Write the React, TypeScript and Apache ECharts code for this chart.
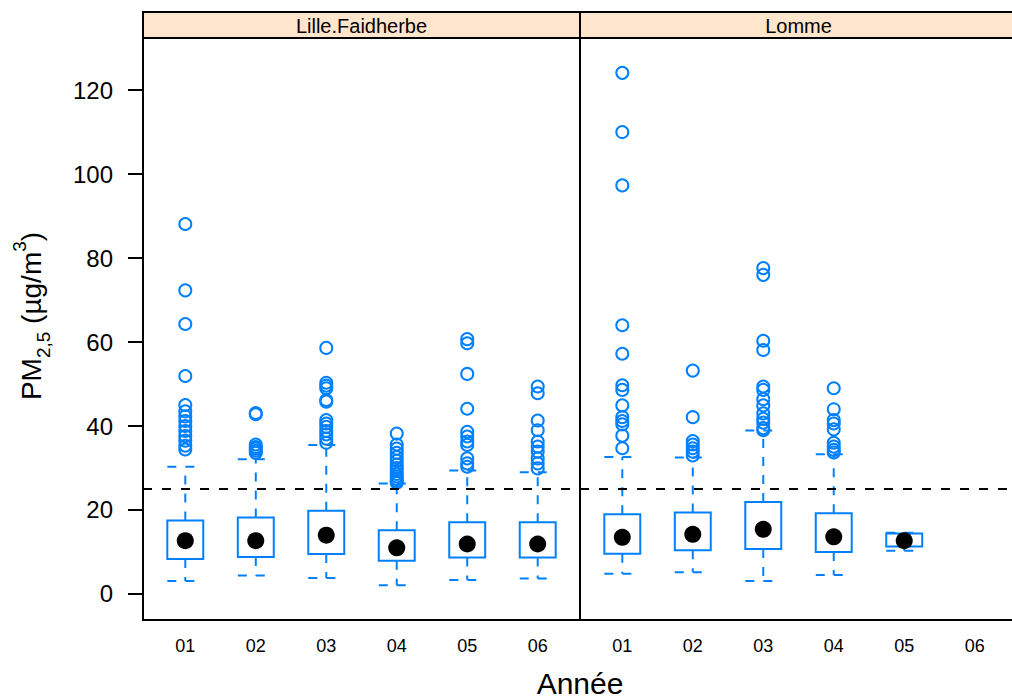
import React, { useEffect, useRef } from "react";
import * as echarts from "echarts";

const years = ["01", "02", "03", "04", "05", "06"];
const sites = ["Lille.Faidherbe", "Lomme"];
const yTicks = [0, 20, 40, 60, 80, 100, 120];
const limitValue = 25;

// [year index (1-based), lower whisker, Q1, median, Q3, upper whisker]
const lilleStats = [
  [1, 3.1, 8.3, 12.7, 17.5, 30.3],
  [2, 4.4, 8.8, 12.7, 18.2, 32.1],
  [3, 3.8, 9.5, 14.0, 19.8, 35.5],
  [4, 2.1, 7.9, 11.0, 15.2, 26.3],
  [5, 3.3, 8.7, 11.9, 17.1, 29.4],
  [6, 3.7, 8.7, 11.9, 17.1, 29.0],
];
const lommeStats = [
  [1, 4.8, 9.6, 13.5, 19.0, 32.6],
  [2, 5.2, 10.4, 14.2, 19.4, 32.5],
  [3, 3.1, 10.7, 15.4, 21.9, 38.9],
  [4, 4.5, 10.0, 13.6, 19.2, 33.3],
  [5, 10.3, 11.3, 12.7, 14.4, 14.6],
];

const lilleOutliers01 = [88.1, 72.3, 64.3, 51.9, 45.0, 43.5, 42.3, 41.2, 40.0, 38.8, 37.6, 36.5, 35.3, 34.4];
const lilleOutliers02 = [43.1, 42.8, 35.6, 35.0, 34.6, 34.1, 33.6];
const lilleOutliers03 = [58.6, 50.3, 49.6, 49.0, 46.2, 45.8, 41.4, 40.6, 39.8, 38.8, 38.0, 37.0, 36.0];
const lilleOutliers04 = [38.2, 35.6, 34.6, 33.6, 32.6, 31.7, 30.8, 30.0, 29.3, 28.6, 28.0, 27.4, 26.9, 26.5];
const lilleOutliers05 = [60.7, 59.7, 52.4, 44.1, 38.6, 37.5, 36.3, 35.5, 32.3, 31.1, 30.3];
const lilleOutliers06 = [49.4, 47.8, 41.3, 39.0, 36.3, 35.1, 33.9, 32.3, 31.1, 29.9];

const lommeOutliers01 = [124.1, 110.0, 97.3, 64.0, 57.2, 49.7, 48.6, 44.9, 42.1, 41.2, 40.4, 37.7, 34.7];
const lommeOutliers02 = [53.2, 42.1, 36.4, 35.6, 34.7, 33.9, 33.0];
const lommeOutliers03 = [77.6, 76.0, 60.3, 58.1, 49.4, 48.6, 46.4, 44.9, 43.0, 41.7, 40.8, 39.5, 39.0];
const lommeOutliers04 = [49.0, 44.0, 41.4, 40.6, 39.2, 36.0, 35.1, 34.3, 33.7];
const lommeOutliers05: number[] = [];

const lilleOutliers = [lilleOutliers01, lilleOutliers02, lilleOutliers03, lilleOutliers04, lilleOutliers05, lilleOutliers06];
const lommeOutliers = [lommeOutliers01, lommeOutliers02, lommeOutliers03, lommeOutliers04, lommeOutliers05];

const BLUE = "#0080ff";
const FONT = "'Liberation Sans', Arial, Helvetica, sans-serif";
const BOX_W = 0.51;

function toPoints(groups: number[][]) {
  const pts: number[][] = [];
  groups.forEach((g, i) => g.forEach((v) => pts.push([i + 1, v])));
  return pts;
}

function renderBox(params: any, api: any) {
  const x = api.value(0);
  const lo = api.coord([x, api.value(1)]);
  const q1 = api.coord([x, api.value(2)]);
  const q3 = api.coord([x, api.value(4)]);
  const hi = api.coord([x, api.value(5)]);
  const half = api.size([BOX_W, 0])[0] / 2;
  const cx = q1[0];
  const dash = { stroke: BLUE, lineWidth: 2, lineDash: [9, 9], fill: null };
  return {
    type: "group",
    children: [
      { type: "line", shape: { x1: cx, y1: q3[1], x2: cx, y2: hi[1] }, style: dash },
      { type: "line", shape: { x1: cx - half, y1: hi[1], x2: cx + half, y2: hi[1] }, style: dash },
      { type: "line", shape: { x1: cx, y1: q1[1], x2: cx, y2: lo[1] }, style: dash },
      { type: "line", shape: { x1: cx - half, y1: lo[1], x2: cx + half, y2: lo[1] }, style: dash },
      {
        type: "rect",
        shape: { x: cx - half, y: q3[1], width: half * 2, height: q1[1] - q3[1] },
        style: { fill: "none", stroke: BLUE, lineWidth: 2 },
      },
    ],
  };
}

function panelSeries(idx: number, stats: number[][], outliers: number[][]) {
  return [
    {
      type: "scatter",
      xAxisIndex: idx,
      yAxisIndex: idx,
      data: toPoints(outliers),
      symbol: "circle",
      symbolSize: 12,
      itemStyle: { color: "rgba(0,0,0,0)", borderColor: BLUE, borderWidth: 2, opacity: 1 },
      silent: true,
      z: 2,
    },
    {
      type: "custom",
      xAxisIndex: idx,
      yAxisIndex: idx,
      data: stats,
      renderItem: renderBox,
      encode: { x: 0, y: [1, 2, 3, 4, 5] },
      silent: true,
      z: 3,
    },
    {
      type: "scatter",
      xAxisIndex: idx,
      yAxisIndex: idx,
      data: stats.map((s) => [s[0], s[3]]),
      symbol: "circle",
      symbolSize: 17,
      itemStyle: { color: "#000", opacity: 1 },
      silent: true,
      z: 4,
      markLine: {
        silent: true,
        symbol: ["none", "none"],
        label: { show: false },
        lineStyle: { color: "#000", width: 2, type: [9, 10], opacity: 1 },
        data: [{ yAxis: limitValue }],
      },
    },
  ];
}

export default function App() {
  const ref = useRef<HTMLDivElement>(null);
  useEffect(() => {
    document.body.style.margin = "0";
    const chart = echarts.init(ref.current!, null, { renderer: "svg" });
    const gridTop = 38;
    const gridH = 582;
    const gridW = 437;
    const xAxisBase = {
      type: "value",
      min: 0.4,
      max: 6.6,
      axisLine: { show: false },
      axisTick: { show: false },
      splitLine: { show: false },
      axisLabel: {
        customValues: [1, 2, 3, 4, 5, 6],
        formatter: (v: number) => years[Math.round(v) - 1],
        fontSize: 18,
        color: "#000",
        fontFamily: FONT,
        margin: 17,
      },
    };
    const gridBase = {
      top: gridTop,
      width: gridW,
      height: gridH,
      show: true,
      borderColor: "#000",
      borderWidth: 2,
      backgroundColor: "transparent",
      containLabel: false,
      outerBoundsMode: "none",
    };
    chart.setOption({
      animation: false,
      backgroundColor: "#fff",
      grid: [
        { ...gridBase, left: 143 },
        { ...gridBase, left: 580 },
      ],
      xAxis: [
        { ...xAxisBase, gridIndex: 0 },
        { ...xAxisBase, gridIndex: 1 },
      ],
      yAxis: [
        {
          gridIndex: 0,
          type: "value",
          min: -6.2,
          max: 132.4,
          axisLine: { show: true, lineStyle: { color: "#000", width: 2 } },
          axisTick: { show: true, length: 15, customValues: yTicks, lineStyle: { color: "#000", width: 2 } },
          splitLine: { show: false },
          axisLabel: { customValues: yTicks, fontSize: 24, color: "#000", fontFamily: FONT, margin: 30 },
        },
        {
          gridIndex: 1,
          type: "value",
          min: -6.2,
          max: 132.4,
          axisLine: { show: false },
          axisTick: { show: false },
          splitLine: { show: false },
          axisLabel: { show: false },
        },
      ],
      series: [...panelSeries(0, lilleStats, lilleOutliers), ...panelSeries(1, lommeStats, lommeOutliers)],
      graphic: [
        {
          type: "rect",
          shape: { x: 143, y: 12, width: gridW, height: 26 },
          style: { fill: "#FFE5CC", stroke: "#000", lineWidth: 2 },
          z: 10,
        },
        {
          type: "rect",
          shape: { x: 580, y: 12, width: gridW, height: 26 },
          style: { fill: "#FFE5CC", stroke: "#000", lineWidth: 2 },
          z: 10,
        },
        {
          type: "text",
          x: 143 + gridW / 2,
          y: 26,
          style: { text: sites[0], fontSize: 20, fontFamily: FONT, fill: "#000", align: "center", verticalAlign: "middle" },
          z: 11,
        },
        {
          type: "text",
          x: 580 + gridW / 2,
          y: 26,
          style: { text: sites[1], fontSize: 20, fontFamily: FONT, fill: "#000", align: "center", verticalAlign: "middle" },
          z: 11,
        },
        {
          type: "text",
          x: 580,
          y: 683,
          style: { text: "Année", fontSize: 30, fontFamily: FONT, fill: "#000", align: "center", verticalAlign: "middle" },
          z: 11,
        },
        {
          type: "text",
          x: 31,
          y: 316,
          rotation: Math.PI / 2,
          style: {
            text: "{m|PM}{sub|2,5}{m| (µg/m}{sup|3}{m|)}",
            fontFamily: FONT,
            fill: "#000",
            align: "center",
            verticalAlign: "middle",
            rich: {
              m: { fontSize: 28, fontFamily: FONT, fill: "#000", verticalAlign: "top", padding: [8, 0, 0, 0] },
              sub: { fontSize: 19, fontFamily: FONT, fill: "#000", verticalAlign: "top", padding: [24, 0, 0, 0] },
              sup: { fontSize: 19, fontFamily: FONT, fill: "#000", verticalAlign: "top", padding: [0, 0, 0, 0] },
            },
          },
          z: 11,
        },
      ],
    });
    return () => chart.dispose();
  }, []);
  return <div ref={ref} style={{ width: 1012, height: 698 }} />;
}
